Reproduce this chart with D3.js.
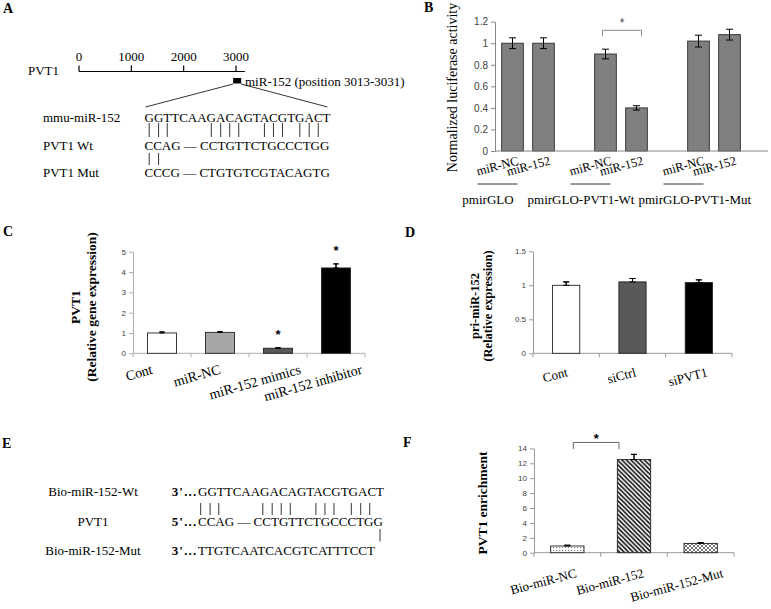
<!DOCTYPE html>
<html><head><meta charset="utf-8">
<script src="https://cdn.jsdelivr.net/npm/d3@7"></script>
<style>body{margin:0;background:#fff}svg{display:block}</style>
</head><body><script>
// ---------------- data ----------------
const scaleTicksA = [0, 1000, 2000, 3000];
const siteA = [3013, 3031];
const siteLabelA = "miR-152 (position 3013-3031)";
const rowLabelsA = ["mmu-miR-152", "PVT1 Wt", "PVT1 Mut"];
const seqsA = ["GGTTCAAGACAGTACGTGACT", "CCAG \u2014 CCTGTTCTGCCCTGG", "CCCG \u2014 CTGTGTCGTACAGTG"];
const pairIdx = [0, 1, 2, 7, 8, 9, 10, 13, 14, 15, 17, 18, 19];
const mutPairIdxA = [0, 1];

const groupsB = ["pmirGLO", "pmirGLO-PVT1-Wt", "pmirGLO-PVT1-Mut"];
const treatB = ["miR-NC", "miR-152"];
const valuesB = [[1.0, 1.0], [0.9, 0.4], [1.02, 1.08]];
const errorsB = [[0.05, 0.05], [0.045, 0.02], [0.055, 0.05]];
const ticksB = [0, 0.2, 0.4, 0.6, 0.8, 1, 1.2];
const yLabelB = "Normalized luciferase activity";

const catsC = ["Cont", "miR-NC", "miR-152 mimics", "miR-152 inhibitor"];
const valuesC = [1.0, 1.03, 0.25, 4.2];
const errorsC = [0.05, 0.04, 0.02, 0.2];
const sigC = [false, false, true, true];
const ticksC = [0, 1, 2, 3, 4, 5];
const yLabelC = ["PVT1", "(Relative gene expression)"];

const catsD = ["Cont", "siCtrl", "siPVT1"];
const valuesD = [1.0, 1.05, 1.04];
const errorsD = [0.05, 0.05, 0.04];
const ticksD = [0, 0.5, 1, 1.5];
const yLabelD = ["pri-miR-152", "(Relative expression)"];

const rowLabelsE = ["Bio-miR-152-Wt", "PVT1", "Bio-miR-152-Mut"];
const prefixE = ["3'...", "5'...", "3'..."];
const seqsE = ["GGTTCAAGACAGTACGTGACT", "CCAG \u2014 CCTGTTCTGCCCTGG", "TTGTCAATCACGTCATTTCCT"];
const mutPairIdxE = [20];

const catsF = ["Bio-miR-NC", "Bio-miR-152", "Bio-miR-152-Mut"];
const valuesF = [0.9, 12.5, 1.25];
const errorsF = [0.1, 0.7, 0.1];
const ticksF = [0, 2, 4, 6, 8, 10, 12, 14];
const yLabelF = "PVT1 enrichment";

// ---------------- setup ----------------
const W = 771, H = 609;
const SERIF = "'Liberation Serif','Times New Roman',Times,serif";
const SANS = "'Liberation Sans',Arial,Helvetica,sans-serif";
const svg = d3.select("body").append("svg").attr("width", W).attr("height", H);
svg.append("rect").attr("width", W).attr("height", H).attr("fill", "#fff");
const fmt = d3.format("");

const defs = svg.append("defs");
const pDot = defs.append("pattern").attr("id", "pDot").attr("patternUnits", "userSpaceOnUse").attr("width", 3).attr("height", 3);
pDot.append("rect").attr("width", 3).attr("height", 3).attr("fill", "#fff");
pDot.append("rect").attr("x", 1).attr("y", 1).attr("width", 1.2).attr("height", 1.2).attr("fill", "#8a8a8a");
const pStr = defs.append("pattern").attr("id", "pStripe").attr("patternUnits", "userSpaceOnUse").attr("width", 4.5).attr("height", 4.5);
pStr.append("rect").attr("width", 4.5).attr("height", 4.5).attr("fill", "#fff");
pStr.append("path").attr("d", "M-1,-1 L5.5,5.5 M-1,3.5 L1,5.5 M3.5,-1 L5.5,1").attr("stroke", "#111").attr("stroke-width", 1.6);
const pX = defs.append("pattern").attr("id", "pCross").attr("patternUnits", "userSpaceOnUse").attr("width", 4).attr("height", 4);
pX.append("rect").attr("width", 4).attr("height", 4).attr("fill", "#fff");
pX.append("path").attr("d", "M0,0 L4,4 M4,0 L0,4").attr("stroke", "#666").attr("stroke-width", 0.9);

// panel letters
[["A", 3, 13], ["B", 424, 12], ["C", 3, 236], ["D", 405, 237], ["E", 2, 448], ["F", 403, 447]].forEach(([t, x, y]) =>
  svg.append("text").attr("x", x).attr("y", y).attr("font-family", SERIF).attr("font-weight", "bold").attr("font-size", 14).text(t));

function txt(g, s, x, y, fs, opts = {}) {
  const t = g.append("text").attr("x", x).attr("y", y).attr("font-family", opts.family || SERIF).attr("font-size", fs).text(s);
  if (opts.anchor) t.attr("text-anchor", opts.anchor);
  if (opts.weight) t.attr("font-weight", opts.weight);
  if (opts.fill) t.attr("fill", opts.fill);
  if (opts.db) t.attr("dominant-baseline", opts.db);
  return t;
}
function charCenter(textSel, i) {
  const e = textSel.node().getExtentOfChar(i);
  return e.x + e.width / 2;
}
function vline(g, x, y1, y2, c = "#000", w = 0.8) {
  g.append("line").attr("x1", x).attr("x2", x).attr("y1", y1).attr("y2", y2).attr("stroke", c).attr("stroke-width", w);
}
function rotLabel(g, s, cx, topY, fs, ang) {
  const t = g.append("text").attr("font-family", SERIF).attr("font-size", fs).attr("text-anchor", "middle").attr("dominant-baseline", "central").text(s);
  const L = t.node().getComputedTextLength();
  const a = ang * Math.PI / 180;
  const cy = topY + (L / 2) * Math.sin(a) + fs * 0.45 * Math.cos(a);
  t.attr("transform", `translate(${cx},${cy}) rotate(${-ang})`);
  return t;
}
function yAxis(g, y, x, ticks, fs, color) {
  const ax = g.append("g").attr("transform", `translate(${x},0)`)
    .call(d3.axisLeft(y).tickValues(ticks).tickFormat(fmt).tickSize(4).tickSizeOuter(0).tickPadding(3));
  ax.select(".domain").attr("stroke", color);
  ax.selectAll(".tick line").attr("stroke", color);
  ax.selectAll(".tick text").attr("font-family", SANS).attr("font-size", fs).attr("fill", "#404040");
  return ax;
}
function xAxisBand(g, x, y0, color, tick = true) {
  const r = x.range();
  g.append("line").attr("x1", r[0]).attr("x2", r[1]).attr("y1", y0).attr("y2", y0).attr("stroke", color);
  if (tick) d3.range(x.domain().length + 1).forEach(i => vline(g, r[0] + i * x.step(), y0, y0 + 4, color, 1));
}
function errBar(g, cx, yTop, yBot, cap) {
  vline(g, cx, yTop, yBot, "#000", 1);
  [yTop, yBot].forEach(yy => g.append("line").attr("x1", cx - cap / 2).attr("x2", cx + cap / 2).attr("y1", yy).attr("y2", yy).attr("stroke", "#000").attr("stroke-width", 1));
}
function yLabel2(g, lines, xs, cy, fs, weight) {
  lines.forEach((s, i) => g.append("text").attr("transform", `translate(${xs[i]},${cy}) rotate(-90)`)
    .attr("text-anchor", "middle").attr("dominant-baseline", "central").attr("font-family", SERIF)
    .attr("font-size", fs).attr("font-weight", weight).text(s));
}

// ---------------- Panel A ----------------
{
  const g = svg.append("g");
  const x = d3.scaleLinear().domain([0, 3000]).range([79, 236]);
  const yl = 71.5;
  txt(g, "PVT1", 28, 75, 13);
  g.append("line").attr("x1", x(0)).attr("x2", x(3170)).attr("y1", yl).attr("y2", yl).attr("stroke", "#000").attr("stroke-width", 1.2);
  scaleTicksA.forEach(t => {
    vline(g, x(t), yl - 6, yl, "#000", 1.2);
    txt(g, String(t), x(t), 61, 13, { anchor: "middle" });
  });
  const mid = x((siteA[0] + siteA[1]) / 2);
  g.append("rect").attr("x", mid - 4).attr("y", 78).attr("width", 8).attr("height", 5.5).attr("fill", "#000");
  txt(g, siteLabelA, 245, 85.5, 13);
  const rowsY = [121.5, 149.5, 176.5];
  const seqX = 144.5;
  const seqT = seqsA.map((s, i) => {
    txt(g, rowLabelsA[i], 43, rowsY[i], 13);
    return txt(g, s, seqX, rowsY[i], 13);
  });
  const endX = seqT[0].node().getExtentOfChar(seqsA[0].length - 1);
  g.append("line").attr("x1", mid - 4).attr("y1", 84).attr("x2", seqX + 1).attr("y2", 107).attr("stroke", "#000").attr("stroke-width", 0.8);
  g.append("line").attr("x1", mid + 4).attr("y1", 84).attr("x2", endX.x + endX.width - 3).attr("y2", 107).attr("stroke", "#000").attr("stroke-width", 0.8);
  pairIdx.forEach(i => vline(g, charCenter(seqT[0], i), 123, 137));
  mutPairIdxA.forEach(i => vline(g, charCenter(seqT[0], i), 153, 165));
}

// ---------------- Panel B ----------------
{
  const g = svg.append("g");
  const y = d3.scaleLinear().domain([0, 1.2]).range([151, 21.7]);
  const x = d3.scaleBand().domain(d3.range(8)).range([497, 745]).paddingInner(0.3).paddingOuter(0.15);
  const bw = x.bandwidth();
  const bars = [];
  groupsB.forEach((gr, gi) => treatB.forEach((tr, ti) => bars.push({ slot: gi * 3 + ti, v: valuesB[gi][ti], e: errorsB[gi][ti], tr, gi })));
  g.selectAll("rect.bar").data(bars).enter().append("rect").attr("class", "bar")
    .attr("x", d => x(d.slot)).attr("y", d => y(d.v)).attr("width", bw).attr("height", d => y(0) - y(d.v))
    .attr("fill", "#808080").attr("stroke", "#3a3a3a").attr("stroke-width", 1);
  bars.forEach(d => errBar(g, x(d.slot) + bw / 2, y(d.v + d.e), y(d.v - d.e), 7));
  yAxis(g, y, 495, ticksB, 10, "#868686");
  g.append("line").attr("x1", 495).attr("x2", 768).attr("y1", y(0)).attr("y2", y(0)).attr("stroke", "#868686");
  // significance
  const c1 = x(3) + bw / 2 - 3, c2 = x(4) + bw / 2 + 5;
  g.append("path").attr("d", `M${c1},${y(1.065)} V${y(1.12)} H${c2} V${y(1.065)}`).attr("fill", "none").attr("stroke", "#888").attr("stroke-width", 1);
  txt(g, "*", (c1 + c2) / 2, y(1.12) - 3, 12, { anchor: "middle", family: SANS, fill: "#444" });
  // y label
  g.append("text").attr("transform", `translate(452,87.5) rotate(-90)`).attr("text-anchor", "middle").attr("dominant-baseline", "central")
    .attr("font-family", SERIF).attr("font-size", 14).text(yLabelB);
  // x labels
  bars.forEach(d => rotLabel(g, d.tr, x(d.slot) + bw / 2 - 15, 155, 12.5, 15));
  let prevRight = -Infinity;
  groupsB.forEach((gr, gi) => {
    const lc = x(gi * 3) + bw / 2 - 15;
    g.append("line").attr("x1", lc - 20).attr("x2", lc + 20).attr("y1", 184).attr("y2", 184).attr("stroke", "#000").attr("stroke-width", 0.8);
    const t = txt(g, gr, 0, 204, 13, { anchor: "middle" });
    const L = t.node().getComputedTextLength();
    let cx = (x(gi * 3) + x(gi * 3 + 1) + bw) / 2 - 40;
    cx = Math.max(cx, prevRight + 4 + L / 2);
    cx = Math.min(cx, 767 - L / 2);
    prevRight = cx + L / 2;
    t.attr("x", cx);
  });
}

// generic bar panel
function barPanel(o) {
  const g = svg.append("g");
  const y = d3.scaleLinear().domain(o.domain).range(o.yRange);
  const x = d3.scaleBand().domain(o.cats).range(o.xRange).paddingInner(o.pad).paddingOuter(o.pad / 2);
  const bw = x.bandwidth();
  xAxisBand(g, x, y(0), o.axisColor);
  yAxis(g, y, o.xRange[0], o.ticks, o.tickFs, o.axisColor);
  o.cats.forEach((c, i) => {
    const v = o.values[i], e = o.errors[i];
    errBar(g, x(c) + bw / 2, y(v + e), y(Math.max(0, v - e)), o.cap);
    g.append("rect").attr("x", x(c)).attr("y", y(v)).attr("width", bw).attr("height", y(0) - y(v))
      .attr("fill", o.fills[i]).attr("stroke", "#222").attr("stroke-width", 0.9);
    errBar(g, x(c) + bw / 2, y(v + e), y(v), o.cap);
    rotLabel(g, c, x(c) + bw / 2 + o.lblDx, o.lblTop, o.lblFs, o.lblAng);
  });
  return { g, x, y, bw };
}

// ---------------- Panel C ----------------
{
  const p = barPanel({
    cats: catsC, values: valuesC, errors: errorsC, domain: [0, 5], yRange: [353.3, 251.7], xRange: [133, 365],
    pad: 0.5, ticks: ticksC, tickFs: 8, axisColor: "#b0b0b0", fills: ["#ffffff", "#a6a6a6", "#595959", "#000000"],
    cap: 5, lblDx: -23, lblTop: 363, lblFs: 14, lblAng: 16
  });
  catsC.forEach((c, i) => {
    if (sigC[i]) txt(p.g, "*", p.x(c) + p.bw / 2, p.y(valuesC[i] + errorsC[i]) - 15 + 6.5, 13, { anchor: "middle", family: SANS, weight: "bold" });
  });
  yLabel2(p.g, yLabelC, [75, 91], 307, 13.5, "bold");
}

// ---------------- Panel D ----------------
{
  const p = barPanel({
    cats: catsD, values: valuesD, errors: errorsD, domain: [0, 1.5], yRange: [353.3, 251.3], xRange: [533, 732],
    pad: 0.59, ticks: ticksD, tickFs: 8, axisColor: "#999", fills: ["#ffffff", "#595959", "#000000"],
    cap: 6, lblDx: -11, lblTop: 366, lblFs: 13, lblAng: 15
  });
  yLabel2(p.g, yLabelD, [475, 488], 306, 12.5, "bold");
}

// ---------------- Panel E ----------------
{
  const g = svg.append("g");
  const rowsY = [496, 526, 554.5];
  const seqX = 198;
  const seqT = seqsE.map((s, i) => {
    txt(g, rowLabelsE[i], 93, rowsY[i], 13, { anchor: "middle" });
    txt(g, prefixE[i], seqX - 0.5, rowsY[i], 13, { anchor: "end", weight: "bold" }).attr("letter-spacing", 1.2);
    return txt(g, s, seqX, rowsY[i], 13);
  });
  pairIdx.forEach(i => vline(g, charCenter(seqT[0], i) - 2, 503, 515));
  mutPairIdxE.forEach(i => vline(g, charCenter(seqT[0], i), 529, 541.5));
}

// ---------------- Panel F ----------------
{
  const p = barPanel({
    cats: catsF, values: valuesF, errors: errorsF, domain: [0, 14], yRange: [552.7, 448.4], xRange: [534, 734],
    pad: 0.5, ticks: ticksF, tickFs: 8, axisColor: "#999", fills: ["url(#pDot)", "url(#pStripe)", "url(#pCross)"],
    cap: 6, lblDx: -24, lblTop: 567, lblFs: 13, lblAng: 15
  });
  const c1 = p.x(catsF[0]) + p.bw / 2 + 6, c2 = p.x(catsF[1]) + p.bw / 2 - 15;
  p.g.append("path").attr("d", `M${c1},${p.y(13.9)} V${p.y(14.8)} H${c2} V${p.y(13.9)}`).attr("fill", "none").attr("stroke", "#666").attr("stroke-width", 1);
  txt(p.g, "*", (c1 + c2) / 2, p.y(14.8) + 1, 13, { anchor: "middle", family: SANS, weight: "bold" });
  p.g.append("text").attr("transform", `translate(482,503) rotate(-90)`).attr("text-anchor", "middle").attr("dominant-baseline", "central")
    .attr("font-family", SERIF).attr("font-size", 13.5).attr("font-weight", "bold").text(yLabelF);
}
</script></body></html>
